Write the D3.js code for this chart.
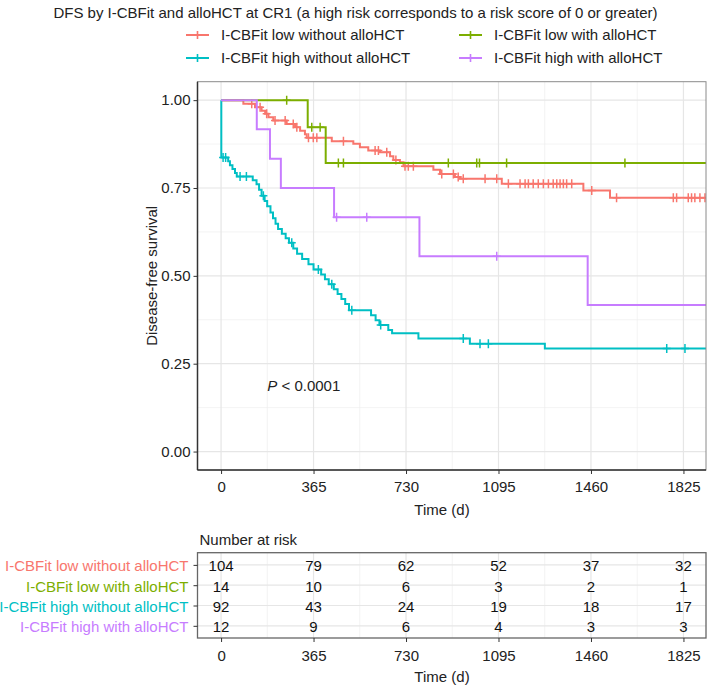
<!DOCTYPE html>
<html><head><meta charset="utf-8">
<script src="https://cdn.jsdelivr.net/npm/d3@7"></script>
<style>body{margin:0;background:#fff} text{font-family:"Liberation Sans",Arial,Helvetica,sans-serif}</style>
</head><body><svg id="c" width="709" height="688"></svg>
<script>
const groups = ["I-CBFit low without alloHCT","I-CBFit low with alloHCT","I-CBFit high without alloHCT","I-CBFit high with alloHCT"];
const colors = ["#F8766D","#7CAE00","#00BFC4","#C77CFF"];
const xTicks = [0,365,730,1095,1460,1825];
const xMinor = [182.5,547.5,912.5,1277.5,1642.5];
const yTicks = [0,0.25,0.5,0.75,1];
const yTickLabels = ["0.00","0.25","0.50","0.75","1.00"];
const yMinor = [0.125,0.375,0.625,0.875];

// event times and survival after each event
const redT = [88,134,160,174,187,206,259,292,312,331,338,437,522,548,581,627,667,680,706,720,838,864,923,943,1108,1430,1535];
const redS = [0.990,0.980,0.970,0.961,0.951,0.942,0.932,0.923,0.913,0.903,0.893,0.883,0.876,0.866,0.857,0.852,0.840,0.830,0.823,0.812,0.802,0.790,0.781,0.776,0.762,0.743,0.722];
const redC = [121,154,180,213,253,285,299,345,364,378,483,608,621,654,690,726,739,759,871,917,936,956,1042,1088,1134,1180,1200,1213,1232,1252,1272,1292,1311,1325,1338,1351,1364,1384,1463,1561,1785,1798,1844,1857,1870,1890,1910];

const greenT = [342,413];
const greenS = [0.923,0.821];
const greenC = [259,358,391,463,483,897,1009,1020,1127,1594];

const cyanT = [1,28,35,45,55,62,125,140,150,160,172,182,195,205,215,225,240,255,268,285,300,320,345,365,395,410,425,445,460,475,490,505,592,610,625,660,675,779,982,1278];
const cyanS = [0.837,0.826,0.815,0.804,0.793,0.783,0.772,0.761,0.745,0.728,0.713,0.698,0.680,0.664,0.648,0.633,0.620,0.607,0.594,0.578,0.563,0.548,0.533,0.518,0.504,0.490,0.476,0.462,0.448,0.434,0.420,0.402,0.388,0.374,0.360,0.346,0.337,0.322,0.307,0.293];
const cyanC = [8,18,75,100,167,279,384,437,516,630,956,1022,1055,1759,1831];

const purpleT = [141,193,236,446,783,1447];
const purpleS = [0.917,0.833,0.750,0.667,0.556,0.417];
const purpleC = [456,575,1088];

const lastFollowUp = [1950,1950,1950,1950];

const riskTimes = [0,365,730,1095,1460,1825];
const riskRed = [104,79,62,52,37,32];
const riskGreen = [14,10,6,3,2,1];
const riskCyan = [92,43,24,19,18,17];
const riskPurple = [12,9,6,4,3,3];

const series = [
  {t:redT,s:redS,c:redC,risk:riskRed},
  {t:greenT,s:greenS,c:greenC,risk:riskGreen},
  {t:cyanT,s:cyanS,c:cyanC,risk:riskCyan},
  {t:purpleT,s:purpleS,c:purpleC,risk:riskPurple}
];

const svg = d3.select("#c");
const P = {l:197.5, r:706, t:81.7, b:470};
const x = d3.scaleLinear().domain([-93,1914]).range([P.l,P.r]);
const y = d3.scaleLinear().domain([-0.0525,1.0525]).range([P.b,P.t]);
const fs = 15;
const txt = "#222";
const FF = "Liberation Sans, Arial, sans-serif";

// title
svg.append("text").attr("x",355.5).attr("y",13).attr("dy","0.35em").attr("text-anchor","middle")
  .attr("font-size",15).attr("fill",txt)
  .text("DFS by I-CBFit and alloHCT at CR1 (a high risk corresponds to a risk score of 0 or greater)");

// legend
const legPos = [[186,35],[459,35],[186,58],[459,58]];
groups.forEach((g,i)=>{
  const [lx,ly] = legPos[i];
  const gg = svg.append("g");
  gg.append("line").attr("x1",lx).attr("x2",lx+23).attr("y1",ly).attr("y2",ly)
    .attr("stroke",colors[i]).attr("stroke-width",2);
  gg.append("path").attr("d",`M${lx+7.5},${ly}H${lx+15.5}M${lx+11.5},${ly-4}V${ly+4}`)
    .attr("stroke",colors[i]).attr("stroke-width",1.6);
  gg.append("text").attr("x",lx+35).attr("y",ly).attr("dy","0.35em")
    .attr("font-size",fs).attr("fill",txt).text(g);
});

// panel grid
const panel = svg.append("g");
panel.append("rect").attr("x",P.l).attr("y",P.t).attr("width",P.r-P.l).attr("height",P.b-P.t).attr("fill","#fff");
yMinor.forEach(v=>panel.append("line").attr("x1",P.l).attr("x2",P.r).attr("y1",y(v)).attr("y2",y(v)).attr("stroke","#EEEEEE").attr("stroke-width",0.7));
xMinor.forEach(v=>panel.append("line").attr("y1",P.t).attr("y2",P.b).attr("x1",x(v)).attr("x2",x(v)).attr("stroke","#EEEEEE").attr("stroke-width",0.7));
yTicks.forEach(v=>panel.append("line").attr("x1",P.l).attr("x2",P.r).attr("y1",y(v)).attr("y2",y(v)).attr("stroke","#E6E6E6").attr("stroke-width",1.2));
xTicks.forEach(v=>panel.append("line").attr("y1",P.t).attr("y2",P.b).attr("x1",x(v)).attr("x2",x(v)).attr("stroke","#E6E6E6").attr("stroke-width",1.2));

// clip
svg.append("clipPath").attr("id","clp").append("rect").attr("x",P.l).attr("y",P.t).attr("width",P.r-P.l).attr("height",P.b-P.t);
const curves = svg.append("g").attr("clip-path","url(#clp)");
const line = d3.line().x(d=>x(d[0])).y(d=>y(d[1])).curve(d3.curveStepAfter);
function survAt(sr,t){let s=1;for(let i=0;i<sr.t.length;i++){if(sr.t[i]<=t)s=sr.s[i];}return s;}
series.forEach((sr,i)=>{
  const pts=[[0,1]];
  sr.t.forEach((t,j)=>pts.push([t,sr.s[j]]));
  pts.push([lastFollowUp[i], sr.s[sr.s.length-1]]);
  curves.append("path").attr("d",line(pts)).attr("fill","none").attr("stroke",colors[i]).attr("stroke-width",2);
  sr.c.forEach(ct=>{
    const cx=x(ct), cy=y(survAt(sr,ct));
    curves.append("path").attr("d",`M${cx-4},${cy}H${cx+4}M${cx},${cy-4.5}V${cy+4.5}`)
      .attr("stroke",colors[i]).attr("stroke-width",1.5);
  });
});

// border & axes
svg.append("rect").attr("x",P.l).attr("y",P.t).attr("width",P.r-P.l).attr("height",P.b-P.t).attr("fill","none").attr("stroke","#8a8a8a").attr("stroke-width",1);
svg.append("line").attr("x1",P.l).attr("x2",P.l).attr("y1",P.t).attr("y2",P.b).attr("stroke","#333").attr("stroke-width",1.5);
svg.append("line").attr("x1",P.l).attr("x2",P.r).attr("y1",P.b).attr("y2",P.b).attr("stroke","#333").attr("stroke-width",1.5);

const yAx = svg.append("g").attr("transform",`translate(${P.l},0)`)
  .call(d3.axisLeft(y).tickValues(yTicks).tickFormat((d,i)=>yTickLabels[i]).tickSize(4).tickPadding(3));
const xAx = svg.append("g").attr("transform",`translate(0,${P.b})`)
  .call(d3.axisBottom(x).tickValues(xTicks).tickFormat(d3.format("d")).tickSize(4).tickPadding(7));
[yAx,xAx].forEach(a=>{a.select(".domain").remove();a.selectAll("line").attr("stroke","#333");
  a.selectAll("text").attr("font-size",fs).attr("fill",txt).attr("font-family",FF);});

svg.append("text").attr("transform",`translate(157,${(P.t+P.b)/2}) rotate(-90)`).attr("text-anchor","middle")
  .attr("font-size",fs).attr("fill",txt).text("Disease-free survival");
svg.append("text").attr("x",442).attr("y",510).attr("dy","0.35em").attr("text-anchor","middle")
  .attr("font-size",fs).attr("fill",txt).text("Time (d)");

const pv = svg.append("text").attr("x",x(182.5)).attr("y",y(0.186)).attr("dy","0.35em").attr("font-size",fs).attr("fill",txt);
pv.append("tspan").attr("font-style","italic").text("P");
pv.append("tspan").text(" < 0.0001");

// risk table
const R = {t:552.7, b:638};
const ry = d3.scalePoint().domain(groups).range([R.t,R.b]).padding(0.6);
svg.append("text").attr("x",P.l+2).attr("y",540).attr("dy","0.35em").attr("font-size",fs).attr("fill",txt).text("Number at risk");
const rt = svg.append("g");
rt.append("rect").attr("x",P.l).attr("y",R.t).attr("width",P.r-P.l).attr("height",R.b-R.t).attr("fill","#fff");
xMinor.forEach(v=>rt.append("line").attr("y1",R.t).attr("y2",R.b).attr("x1",x(v)).attr("x2",x(v)).attr("stroke","#EEEEEE").attr("stroke-width",0.7));
xTicks.forEach(v=>rt.append("line").attr("y1",R.t).attr("y2",R.b).attr("x1",x(v)).attr("x2",x(v)).attr("stroke","#E6E6E6").attr("stroke-width",1.2));
groups.forEach(g=>rt.append("line").attr("x1",P.l).attr("x2",P.r).attr("y1",ry(g)).attr("y2",ry(g)).attr("stroke","#E6E6E6").attr("stroke-width",1.2));
series.forEach((sr,i)=>{
  riskTimes.forEach((t,j)=>{
    rt.append("text").attr("x",x(t)).attr("y",ry(groups[i])+1).attr("dy","0.36em").attr("text-anchor","middle")
      .attr("font-size",fs).attr("fill","#111").text(sr.risk[j]);
  });
});
rt.append("rect").attr("x",P.l).attr("y",R.t).attr("width",P.r-P.l).attr("height",R.b-R.t).attr("fill","none").attr("stroke","#666").attr("stroke-width",1.3);
const ryAx = svg.append("g").attr("transform",`translate(${P.l},0)`).call(d3.axisLeft(ry).tickSize(4).tickPadding(5));
ryAx.select(".domain").remove();
ryAx.selectAll("line").attr("stroke","#333");
ryAx.selectAll("text").attr("font-size",fs).attr("font-family",FF).attr("fill",(d,i)=>colors[i]).attr("dy","0.4em");
const rxAx = svg.append("g").attr("transform",`translate(0,${R.b})`)
  .call(d3.axisBottom(x).tickValues(xTicks).tickFormat(d3.format("d")).tickSize(4).tickPadding(8));
rxAx.select(".domain").remove();
rxAx.selectAll("line").attr("stroke","#333");
rxAx.selectAll("text").attr("font-size",fs).attr("fill",txt).attr("font-family",FF);
svg.append("text").attr("x",442).attr("y",677).attr("dy","0.35em").attr("text-anchor","middle")
  .attr("font-size",fs).attr("fill",txt).text("Time (d)");
</script></body></html>
